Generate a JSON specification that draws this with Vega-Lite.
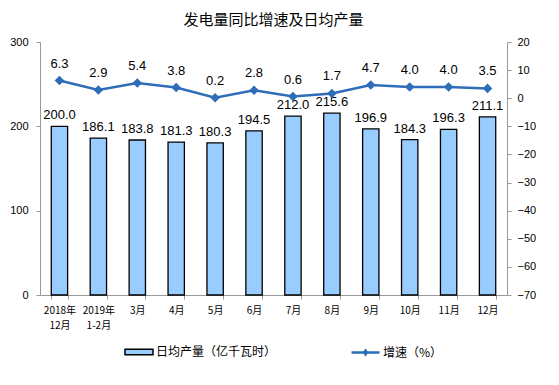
{
  "$schema": "https://vega.github.io/schema/vega-lite/v6.json",
  "width": 467,
  "height": 253,
  "autosize": "none",
  "padding": {"left": 40, "top": 42, "right": 52, "bottom": 90},
  "background": "white",
  "title": {"text": "发电量同比增速及日均产量", "font": "Noto Sans CJK SC", "fontSize": 15, "fontWeight": "normal", "color": "#000", "offset": 8, "anchor": "middle"},
  "data": {"values": [
    {"m": "2018年|12月", "v": 200.0, "g": 6.3},
    {"m": "2019年|1-2月", "v": 186.1, "g": 2.9},
    {"m": "3月", "v": 183.8, "g": 5.4},
    {"m": "4月", "v": 181.3, "g": 3.8},
    {"m": "5月", "v": 180.3, "g": 0.2},
    {"m": "6月", "v": 194.5, "g": 2.8},
    {"m": "7月", "v": 212.0, "g": 0.6},
    {"m": "8月", "v": 215.6, "g": 1.7},
    {"m": "9月", "v": 196.9, "g": 4.7},
    {"m": "10月", "v": 184.3, "g": 4.0},
    {"m": "11月", "v": 196.3, "g": 4.0},
    {"m": "12月", "v": 211.1, "g": 3.5}
  ]},
  "encoding": {
    "x": {"field": "m", "type": "nominal", "sort": null,
      "scale": {"paddingInner": 0.58, "paddingOuter": 0.29},
      "axis": {"title": null, "labelAngle": 0, "labelExpr": "split(datum.label, '|')", "labelFont": "Noto Sans CJK SC", "labelFontSize": 10, "labelColor": "#000", "labelPadding": 6, "domainColor": "#999", "tickColor": "#999", "tickSize": 4, "tickBand": "extent", "labelLineHeight": 15}}
  },
  "layer": [
    {
      "encoding": {
        "y": {"field": "v", "type": "quantitative", "scale": {"domain": [0, 300]},
          "axis": {"title": null, "values": [0, 100, 200, 300], "grid": false, "labelFont": "Liberation Sans", "labelFontSize": 11, "labelColor": "#000", "domainColor": "#999", "tickColor": "#999", "tickSize": 4, "labelPadding": 8}}
      },
      "layer": [
        {"mark": {"type": "bar", "stroke": "#000", "strokeWidth": 1.3},
         "encoding": {
           "fill": {"datum": "日均产量（亿千瓦时）", "type": "nominal", "scale": {"range": ["#99CCFF"]},
             "legend": {"title": null, "orient": "none", "legendX": 84, "legendY": 295, "labelFont": "Noto Sans CJK SC", "labelFontSize": 12, "labelColor": "#000", "labelOffset": 2, "symbolType": "M-1,-0.2H1V0.2H-1Z", "symbolStrokeColor": "#000", "symbolStrokeWidth": 1.5, "symbolSize": 784}}
         }},
        {"mark": {"type": "text", "dy": -11, "font": "Liberation Sans", "fontSize": 13, "color": "#000"},
         "encoding": {
           "text": {"field": "v", "type": "quantitative", "format": ".1f"}
         }}
      ]
    },
    {
      "encoding": {
        "y": {"field": "g", "type": "quantitative", "scale": {"domain": [-70, 20]},
          "axis": {"title": null, "orient": "right", "values": [-70, -60, -50, -40, -30, -20, -10, 0, 10, 20], "labelOverlap": false, "grid": false, "labelFont": "Liberation Sans", "labelFontSize": 11, "labelColor": "#000", "domainColor": "#999", "tickColor": "#999", "tickSize": 4, "labelPadding": 6}}
      },
      "layer": [
        {"mark": {"type": "line", "strokeWidth": 2.5, "color": "#2E6DB8", "point": {"shape": "diamond", "size": 45, "filled": true, "color": "#2E6DB8"}},
         "encoding": {
           "stroke": {"datum": "增速（%）", "type": "nominal", "scale": {"range": ["#2E6DB8"]},
             "legend": {"title": null, "orient": "none", "legendX": 310, "legendY": 295, "labelFont": "Noto Sans CJK SC", "labelFontSize": 12, "labelColor": "#000", "labelOffset": 2, "symbolType": "M-1,0H1M0,-0.14L0.1,0L0,0.14L-0.1,0Z", "symbolSize": 784, "symbolFillColor": "#2E6DB8", "symbolStrokeWidth": 2.5}}
         }},
        {"mark": {"type": "text", "dy": -17, "font": "Liberation Sans", "fontSize": 13, "color": "#000"},
         "encoding": {
           "text": {"field": "g", "type": "quantitative", "format": ".1f"}
         }}
      ]
    }
  ],
  "resolve": {"scale": {"y": "independent"}},
  "config": {"view": {"stroke": null}, "axis": {"labelOverlap": false}}
}
